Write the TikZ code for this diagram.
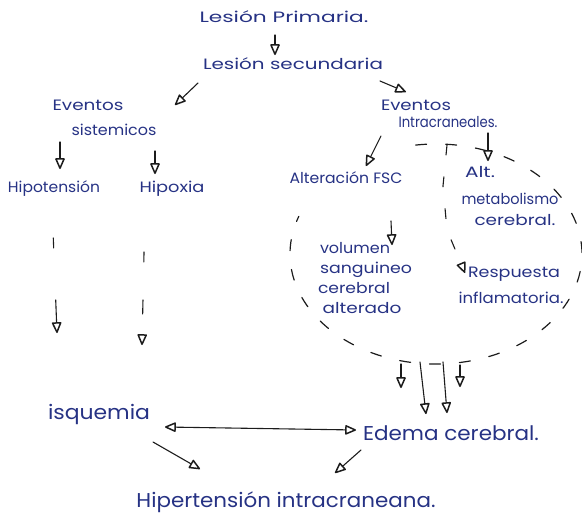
\documentclass[tikz,border=0pt]{standalone}
\usepackage{fontspec}
\setmainfont{Poppins}
\usepackage{graphicx}
\usetikzlibrary{arrows.meta}
\definecolor{ink}{RGB}{38,50,132}
\definecolor{pen}{RGB}{28,28,28}
\newlength\fitlen
\newcommand\fitw[2]{\settowidth\fitlen{#2}\pgfmathsetmacro\fitsx{#1/\fitlen}\scalebox{\fitsx}[1]{#2}}
\tikzset{
  txt/.style={text=ink, inner sep=0pt, anchor=mid, font=\fontsize{15}{17}\selectfont},
  big/.style={text=ink, inner sep=0pt, anchor=mid, font=\fontsize{20}{23}\selectfont},
  arr/.style={draw=pen, line width=1.1pt, line cap=round, line join=round,
    -{Triangle[length=12pt,width=10pt,round,line width=1.5pt,fill=white]}},
  dblarr/.style={draw=pen, line width=1.1pt, line cap=round,
    {Triangle[length=12pt,width=10pt,round,line width=1.5pt,fill=white]}-{Triangle[length=12pt,width=10pt,round,line width=1.5pt,fill=white]}},
  dashline/.style={draw=pen, line width=1.2pt, line cap=round, dash pattern=on 11pt off 19pt},
}
\begin{document}
\begin{tikzpicture}[x=1pt,y=-1pt]
\path[use as bounding box] (0,0) rectangle (582,531);

% texts
\node[txt] (lp) at (284,20) {\fitw{169}{Lesión Primaria.}};
\node[txt] (ls) at (293,67) {\fitw{180}{Lesión secundaria}};
\node[txt] (es1) at (88,108) {\fitw{71}{Eventos}};
\node[txt] (es2) at (114,133) {\fitw{85}{sistemicos}};
\node[txt] (ei1) at (416,108) {\fitw{70}{Eventos}};
\node[txt] (ei2) at (448,125) {\fitw{99}{Intracraneales.}};
\node[txt] (hipot) at (54,190) {\fitw{92}{Hipotensión}};
\node[txt] (hipox) at (172,190) {\fitw{65}{Hipoxia}};
\node[txt] (afsc) at (346,181) {\fitw{113}{Alteración FSC}};
\node[txt] (alt1) at (480,175) {\fitw{30}{Alt.}};
\node[txt] (alt2) at (510,202) {\fitw{97}{metabolismo}};
\node[txt] (alt3) at (515,223) {\fitw{81}{cerebral.}};
\node[txt] (vol1) at (355,251) {\fitw{70}{volumen}};
\node[txt] (vol2) at (366,271) {\fitw{92}{sanguineo}};
\node[txt] (vol3) at (354,291) {\fitw{72}{cerebral}};
\node[txt] (vol4) at (362,311) {\fitw{79}{alterado}};
\node[txt] (resp1) at (514,275) {\fitw{92}{Respuesta}};
\node[txt] (resp2) at (511,301) {\fitw{105}{inflamatoria.}};
\node[big] (isq) at (99,417) {\fitw{102}{isquemia}};
\node[big] (edema) at (451,438) {\fitw{176}{Edema cerebral.}};
\node[big] (hic) at (286,505) {\fitw{299}{Hipertensión intracraneana.}};

% connector end points
\coordinate (c1a) at (275,35);   \coordinate (c1b) at (275,55);
\coordinate (c2a) at (198,83);   \coordinate (c2b) at (175,105);
\coordinate (c3a) at (380,81);   \coordinate (c3b) at (406,92);
\coordinate (c4a) at (60,142);   \coordinate (c4b) at (60,169);
\coordinate (c5a) at (155,151);  \coordinate (c5b) at (155,174);
\coordinate (c6a) at (381,136);  \coordinate (c6b) at (366,166);
\coordinate (c7a) at (488,133);  \coordinate (c7b) at (488,161);
\coordinate (c8a) at (447,145);  \coordinate (c8m) at (443,186);
\coordinate (c8n) at (447,230);  \coordinate (c8b) at (465,273);
\coordinate (c9a) at (391,221);  \coordinate (c9b) at (392,245);
\coordinate (hta) at (52,205);   \coordinate (htb) at (57,333);
\coordinate (hxa) at (145,207);  \coordinate (hxb) at (142,345);
\coordinate (isqr) at (165,427); \coordinate (edl) at (356,430);
\coordinate (isqd) at (153,442); \coordinate (hicl) at (200,469);
\coordinate (edd) at (361,450);  \coordinate (hicr) at (335,473);
\coordinate (ellc) at (436,254);
\coordinate (b1a) at (401,364);  \coordinate (b1b) at (401,388);
\coordinate (b2a) at (420,362);  \coordinate (b2b) at (426,414);
\coordinate (b3a) at (443,362);  \coordinate (b3b) at (447,413);
\coordinate (b4a) at (460,365);  \coordinate (b4b) at (460,387);

% solid arrows
\draw[arr] (c1a) -- (c1b);
\draw[arr] (c2a) -- (c2b);
\draw[arr] (c3a) -- (c3b);
\draw[arr] (c4a) -- (c4b);
\draw[arr] (c5a) -- (c5b);
\draw[arr] (c6a) -- (c6b);
\draw[arr] (c7a) -- (c7b);
\draw[arr] (c9a) -- (c9b);
\draw[arr] (isqd) -- (hicl);
\draw[arr] (edd) -- (hicr);
\draw[dblarr] (isqr) -- (edl);
\draw[arr] (b1a) -- (b1b);
\draw[arr] (b2a) -- (b2b);
\draw[arr] (b3a) -- (b3b);
\draw[arr] (b4a) -- (b4b);

% dashed arrows
\draw[arr, dash pattern=on 10pt off 52pt on 30pt off 40pt, dash phase=99pt] (hta) -- (htb);
\draw[arr, dash pattern=on 10pt off 38pt on 14pt off 100pt, dash phase=117pt] (hxa) -- (hxb);
\draw[arr, dash pattern=on 10pt off 22pt] (c8a) -- (c8m) -- (c8n) -- (c8b);

% dashed ellipse around intracranial events
\draw[dashline] (ellc) ++(262:146 and 110) arc[start angle=262, end angle=560, x radius=146, y radius=110];
\end{tikzpicture}
\end{document}
